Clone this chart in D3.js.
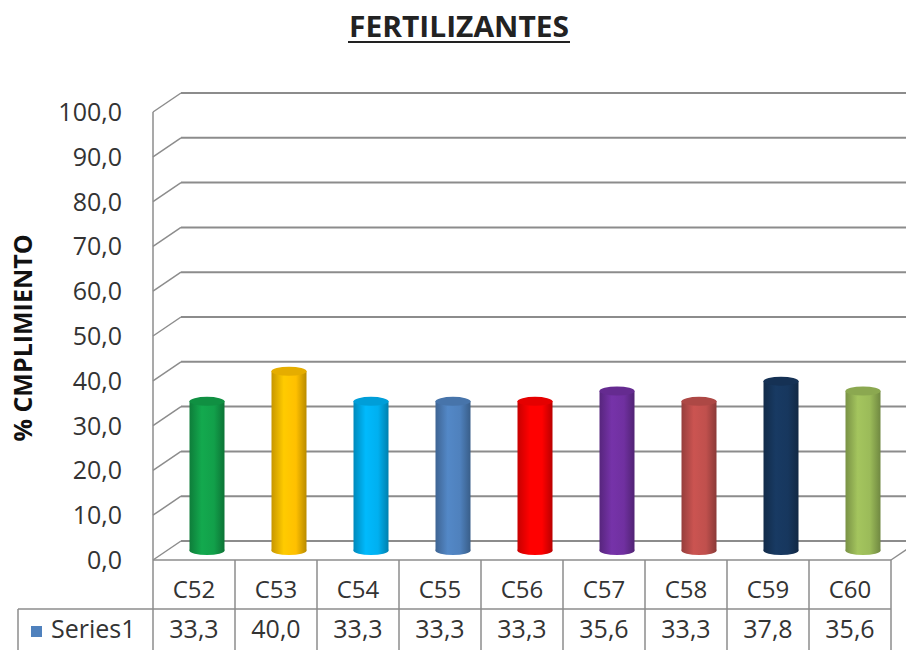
<!DOCTYPE html>
<html><head><meta charset="utf-8">
<script src="https://cdn.jsdelivr.net/npm/d3@7"></script>
<style>body{margin:0;background:#fff}svg{display:block}</style>
</head><body>
<svg id="c" width="906" height="650"></svg>
<script>
const categories = ["C52","C53","C54","C55","C56","C57","C58","C59","C60"];
const values = [33.3,40.0,33.3,33.3,33.3,35.6,33.3,37.8,35.6];
const valueLabels = ["33,3","40,0","33,3","33,3","33,3","35,6","33,3","37,8","35,6"];
const colors = ["#12a04a","#ffc000","#00b0f0","#4f81bd","#ff0000","#7030a0","#c0504d","#17375e","#9bbb59"];
const yTicks = [0,10,20,30,40,50,60,70,80,90,100];
const seriesName = "Series1";
const title = "FERTILIZANTES";
const yTitle = "% CMPLIMIENTO";

const svg = d3.select("#c");
const font = "'Open Sans', 'Noto Sans', sans-serif";
const dx = 28, dy = -19;
const left = 153, right = 891, y0 = 560, y100 = 112;
const y = d3.scaleLinear().domain([0,100]).range([y0,y100]);
const x = d3.scaleBand().domain(categories).range([left,right]);
const grid = "#8c8c8c";

// gradients
const defs = svg.append("defs");
colors.forEach((c,i)=>{
  const g = defs.append("linearGradient").attr("id","g"+i).attr("x1","0").attr("x2","1").attr("y1","0").attr("y2","0");
  const base = d3.color(c);
  g.append("stop").attr("offset","0%").attr("stop-color",base.darker(0.7));
  g.append("stop").attr("offset","35%").attr("stop-color",base.brighter(0.15));
  g.append("stop").attr("offset","70%").attr("stop-color",base);
  g.append("stop").attr("offset","100%").attr("stop-color",base.darker(0.9));
});

// title
svg.append("text").attr("x",459).attr("y",37).attr("text-anchor","middle")
  .attr("font-family",font).attr("font-size",29).attr("font-weight","bold")
  .attr("textLength",220).attr("lengthAdjust","spacingAndGlyphs")
  .attr("fill","#222").text(title);
svg.append("line").attr("x1",348).attr("x2",570).attr("y1",42).attr("y2",42)
  .attr("stroke","#222").attr("stroke-width",2);

// y axis title
svg.append("text").attr("transform","translate(32,338) rotate(-90)")
  .attr("text-anchor","middle").attr("font-family",font).attr("font-size",25)
  .attr("font-weight","bold").attr("fill","#111").text(yTitle);

// back wall gridlines & diagonals
const gg = svg.append("g");
yTicks.forEach(t=>{
  const yy = y(t);
  gg.append("line").attr("x1",left+dx).attr("x2",908).attr("y1",yy+dy).attr("y2",yy+dy)
    .attr("stroke",grid).attr("stroke-width",2);
  gg.append("line").attr("x1",left).attr("x2",left+dx).attr("y1",yy).attr("y2",yy+dy)
    .attr("stroke",grid).attr("stroke-width",1.5);
});
// front vertical axis
gg.append("line").attr("x1",left).attr("x2",left).attr("y1",y100).attr("y2",650)
  .attr("stroke",grid).attr("stroke-width",1.5);
// floor front edge
gg.append("line").attr("x1",left).attr("x2",right).attr("y1",y0).attr("y2",y0)
  .attr("stroke",grid).attr("stroke-width",1.5);
gg.append("line").attr("x1",right).attr("x2",right+dx).attr("y1",y0).attr("y2",y0+dy)
  .attr("stroke",grid).attr("stroke-width",1.5);

// y tick labels
svg.append("g").selectAll("text").data(yTicks).join("text")
  .attr("x",122).attr("y",d=>y(d)+9).attr("text-anchor","end")
  .attr("font-family",font).attr("font-size",25).attr("fill","#333")
  .text(d=>d.toFixed(1).replace(".",","));

// cylinders
const bw = 35, ry = 4.5;
const bars = svg.append("g").selectAll("g").data(values).join("g");
bars.each(function(v,i){
  const g = d3.select(this);
  const cx = x(categories[i]) + x.bandwidth()/2 + dx/2 - 1;
  const yb = y(0) + dy/2;
  const yt = y(v) + dy/2;
  const base = d3.color(colors[i]);
  g.append("ellipse").attr("cx",cx).attr("cy",yb).attr("rx",bw/2).attr("ry",ry)
    .attr("fill",`url(#g${i})`);
  g.append("rect").attr("x",cx-bw/2).attr("y",yt).attr("width",bw).attr("height",yb-yt)
    .attr("fill",`url(#g${i})`);
  g.append("ellipse").attr("cx",cx).attr("cy",yt).attr("rx",bw/2).attr("ry",ry)
    .attr("fill",base.darker(0.3));
});

// data table
const tb = svg.append("g");
const rowTop = 609;
tb.append("line").attr("x1",18).attr("x2",right).attr("y1",rowTop).attr("y2",rowTop).attr("stroke",grid).attr("stroke-width",1.5);
tb.append("line").attr("x1",18).attr("x2",18).attr("y1",rowTop).attr("y2",650).attr("stroke",grid).attr("stroke-width",1.5);
categories.forEach((c,i)=>{
  const xr = x(c)+x.bandwidth();
  tb.append("line").attr("x1",xr).attr("x2",xr).attr("y1",y0).attr("y2",650).attr("stroke",grid).attr("stroke-width",1.5);
});
tb.selectAll("text.cat").data(categories).join("text").attr("class","cat")
  .attr("x",d=>x(d)+x.bandwidth()/2).attr("y",598).attr("text-anchor","middle")
  .attr("font-family",font).attr("font-size",24).attr("fill","#333").text(d=>d);
tb.selectAll("text.val").data(valueLabels).join("text").attr("class","val")
  .attr("x",(d,i)=>x(categories[i])+x.bandwidth()/2).attr("y",638).attr("text-anchor","middle")
  .attr("font-family",font).attr("font-size",25).attr("fill","#333").text(d=>d);
tb.append("rect").attr("x",31).attr("y",626).attr("width",11).attr("height",11).attr("fill","#4f81bd");
tb.append("text").attr("x",51).attr("y",638).attr("font-family",font).attr("font-size",25)
  .attr("fill","#333").text(seriesName);
</script>
</body></html>
